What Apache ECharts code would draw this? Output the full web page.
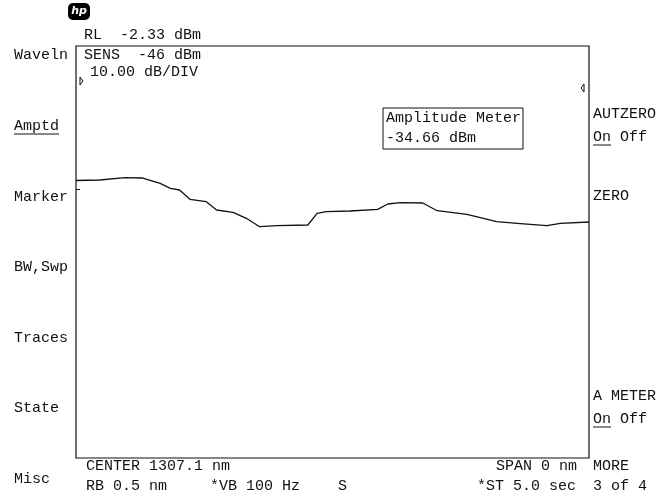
<!DOCTYPE html>
<html>
<head>
<meta charset="utf-8">
<script src="https://cdn.jsdelivr.net/npm/echarts@6/dist/echarts.min.js"></script>
<style>
  html, body { margin: 0; padding: 0; background: #fff; }
  #osa { width: 664px; height: 501px; }
</style>
</head>
<body>
<div id="osa"></div>
<script>
// zero span trace, 5 s sweep
let sweep_time = [0, 0.23, 0.48, 0.65, 0.82, 0.92, 1.01, 1.11, 1.27, 1.37, 1.53, 1.66, 1.79, 1.96, 2.26, 2.35, 2.44, 2.67, 2.94, 3.04, 3.16, 3.38, 3.52, 3.81, 4.10, 4.30, 4.59, 4.72, 5.0]
let level_dbm = [-34.98, -34.85, -34.30, -34.37, -35.66, -36.87, -37.28, -39.54, -40.12, -42.14, -42.69, -44.15, -46.19, -45.95, -45.78, -42.94, -42.55, -42.38, -41.97, -40.68, -40.36, -40.44, -42.31, -43.18, -44.98, -45.36, -45.95, -45.36, -45.05]

let ref_level = -2.33
let db_per_div = 10
let divisions = 10

let softkeys_left = ['Waveln', 'Amptd', 'Marker', 'BW,Swp', 'Traces', 'State', 'Misc']

let font = '15px "Liberation Mono", "DejaVu Sans Mono", monospace'
let ink = '#111'

function txt(x, y, s, align) {
  return {
    type: 'text',
    x: x,
    y: y,
    style: {
      text: s,
      font: font,
      fill: ink,
      align: align || 'left',
      verticalAlign: 'middle'
    },
    z: 10
  }
}

function hline(x1, x2, y) {
  return {
    type: 'line',
    shape: { x1: x1, y1: y, x2: x2, y2: y },
    style: { stroke: ink, lineWidth: 1 },
    z: 10
  }
}

let trace_data = []
for (let i = 0; i < sweep_time.length; i++) {
  trace_data.push([sweep_time[i], level_dbm[i]])
}

let graphics = []

// softkey labels on the left
let key_y = [55, 126, 197, 267, 338, 408, 479]
for (let i = 0; i < softkeys_left.length; i++) {
  graphics.push(txt(14, key_y[i], softkeys_left[i]))
}
graphics.push(hline(14, 59, 134))

// hp logo
graphics.push({
  type: 'rect',
  shape: { x: 68, y: 3, width: 22, height: 17, r: 5 },
  style: { fill: '#000' }
})
graphics.push({
  type: 'text',
  x: 79, y: 11.5,
  style: { text: 'hp', font: 'italic bold 11px "DejaVu Sans"', fill: '#fff', align: 'center', verticalAlign: 'middle' },
  z: 11
})

// header annotations
graphics.push(txt(84, 35, 'RL  ' + ref_level.toFixed(2) + ' dBm'))
graphics.push(txt(84, 55, 'SENS  -46 dBm'))
graphics.push(txt(90, 72, db_per_div.toFixed(2) + ' dB/DIV'))

// display line arrows + small marker tick
graphics.push({
  type: 'polygon',
  shape: { points: [[80, 77], [80, 85], [83, 81]] },
  style: { fill: 'none', stroke: ink, lineWidth: 1 }
})
graphics.push({
  type: 'polygon',
  shape: { points: [[584, 84], [584, 92], [581, 88]] },
  style: { fill: 'none', stroke: ink, lineWidth: 1 }
})
graphics.push(hline(76, 80, 189.5))

// amplitude meter readout
graphics.push({
  type: 'rect',
  shape: { x: 383, y: 108, width: 140, height: 41 },
  style: { fill: 'none', stroke: ink, lineWidth: 1 },
  z: 10
})
graphics.push(txt(386, 118, 'Amplitude Meter'))
graphics.push(txt(386, 138, '-34.66 dBm'))

// softkey labels on the right
graphics.push(txt(593, 114, 'AUTZERO'))
graphics.push(txt(593, 137, 'On Off'))
graphics.push(hline(593, 611, 145))
graphics.push(txt(593, 196, 'ZERO'))
graphics.push(txt(593, 396, 'A METER'))
graphics.push(txt(593, 419, 'On Off'))
graphics.push(hline(593, 611, 427))
graphics.push(txt(593, 466, 'MORE'))
graphics.push(txt(593, 486, '3 of 4'))

// footer
graphics.push(txt(86, 466, 'CENTER 1307.1 nm'))
graphics.push(txt(577, 466, 'SPAN 0 nm', 'right'))
graphics.push(txt(86, 486, 'RB 0.5 nm'))
graphics.push(txt(210, 486, '*VB 100 Hz'))
graphics.push(txt(338, 486, 'S'))
graphics.push(txt(576, 486, '*ST 5.0 sec', 'right'))

let chart = echarts.init(document.getElementById('osa'))

let option = {
  backgroundColor: '#fff',
  animation: false,
  grid: {
    left: 76,
    top: 46,
    width: 513,
    height: 412,
    show: true,
    borderColor: ink,
    borderWidth: 1.2,
    backgroundColor: 'transparent'
  },
  xAxis: {
    type: 'value',
    min: 0,
    max: 5,
    axisLine: { show: false },
    axisTick: { show: false },
    axisLabel: { show: false },
    splitLine: { show: false }
  },
  yAxis: {
    type: 'value',
    min: ref_level - db_per_div * divisions,
    max: ref_level,
    axisLine: { show: false },
    axisTick: { show: false },
    axisLabel: { show: false },
    splitLine: { show: false }
  },
  series: [
    {
      type: 'line',
      data: trace_data,
      showSymbol: false,
      smooth: false,
      lineStyle: { color: ink, width: 1.3 }
    }
  ],
  graphic: graphics
}

chart.setOption(option)
</script>
</body>
</html>
